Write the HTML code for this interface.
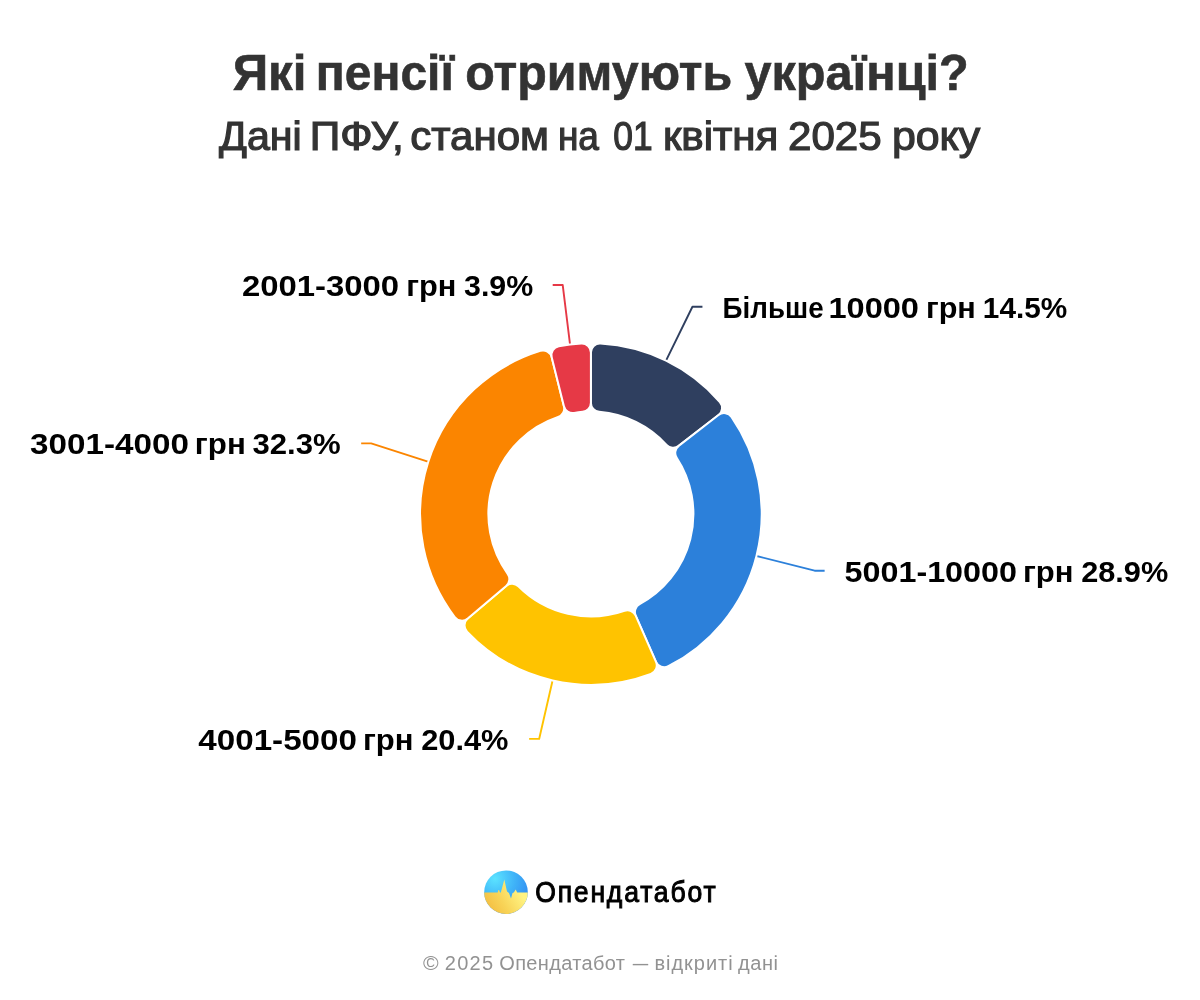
<!DOCTYPE html>
<html><head><meta charset="utf-8"><title>Які пенсії отримують українці?</title><style>
html,body{margin:0;padding:0;background:#fff;width:1200px;height:1000px;overflow:hidden}
svg{display:block;will-change:transform}
text{font-family:"Liberation Sans",sans-serif}
.title{font-weight:700;font-size:50px;fill:#333;stroke:#333;stroke-width:0.6px}
.sub{font-weight:400;font-size:40px;fill:#333;stroke:#333;stroke-width:1.2px}
.lab{font-weight:700;font-size:30px;fill:#000}
.brand{font-weight:400;font-size:29.5px;fill:#000;stroke:#000;stroke-width:1.0px}
.foot{font-weight:400;font-size:20px;fill:#929292}
</style></head><body>
<svg width="1200" height="1000" viewBox="0 0 1200 1000">
<rect width="1200" height="1000" fill="#fff"/>
<text x="232.67" y="90.0" textLength="73.80" lengthAdjust="spacingAndGlyphs" class="title">Які</text><text x="315.83" y="90.0" textLength="138.07" lengthAdjust="spacingAndGlyphs" class="title">пенсії</text><text x="465.23" y="90.0" textLength="266.99" lengthAdjust="spacingAndGlyphs" class="title">отримують</text><text x="744.48" y="90.0" textLength="224.29" lengthAdjust="spacingAndGlyphs" class="title">українці?</text>
<text x="219.07" y="149.8" textLength="82.70" lengthAdjust="spacingAndGlyphs" class="sub">Дані</text><text x="309.83" y="149.8" textLength="93.90" lengthAdjust="spacingAndGlyphs" class="sub">ПФУ,</text><text x="410.23" y="149.8" textLength="138.80" lengthAdjust="spacingAndGlyphs" class="sub">станом</text><text x="557.90" y="149.8" textLength="41.07" lengthAdjust="spacingAndGlyphs" class="sub">на</text><text x="613.30" y="149.8" textLength="39.33" lengthAdjust="spacingAndGlyphs" class="sub">01</text><text x="662.90" y="149.8" textLength="115.50" lengthAdjust="spacingAndGlyphs" class="sub">квітня</text><text x="787.97" y="149.8" textLength="93.66" lengthAdjust="spacingAndGlyphs" class="sub">2025</text><text x="891.90" y="149.8" textLength="88.33" lengthAdjust="spacingAndGlyphs" class="sub">року</text>
<g fill="none" stroke-width="1.9" stroke-linejoin="round"><polyline points="665.16,362.41 692.44,306.74 702.44,306.74" stroke="#2F3F5F"/><polyline points="754.53,555.47 814.63,570.70 824.63,570.70" stroke="#2C80DA"/><polyline points="553.04,678.50 539.14,738.92 529.14,738.92" stroke="#FFC300"/><polyline points="430.20,462.34 371.17,443.37 361.17,443.37" stroke="#FB8500"/><polyline points="570.27,346.47 562.69,284.93 552.69,284.93" stroke="#E63946"/></g>
<g stroke="#fff" stroke-width="2.0" stroke-linejoin="round"><path d="M590.90 352.45A9.0 9.0 0 0 1 600.40 343.46A170.8 170.8 0 0 1 719.83 401.97A9.0 9.0 0 0 1 718.55 414.99L678.71 445.88A9.0 9.0 0 0 1 666.56 444.84A102.5 102.5 0 0 0 599.17 411.83A9.0 9.0 0 0 1 590.90 402.86Z" fill="#2F3F5F"/><path d="M718.55 414.99A9.0 9.0 0 0 1 731.47 416.98A170.8 170.8 0 0 1 668.31 666.25A9.0 9.0 0 0 1 655.99 661.86L635.68 615.72A9.0 9.0 0 0 1 639.64 604.17A102.5 102.5 0 0 0 676.70 457.92A9.0 9.0 0 0 1 678.71 445.88Z" fill="#2C80DA"/><path d="M655.99 661.86A9.0 9.0 0 0 1 650.91 673.91A170.8 170.8 0 0 1 467.02 631.59A9.0 9.0 0 0 1 467.73 618.53L506.17 585.91A9.0 9.0 0 0 1 518.36 586.41A102.5 102.5 0 0 0 624.49 610.84A9.0 9.0 0 0 1 635.68 615.72Z" fill="#FFC300"/><path d="M467.73 618.53A9.0 9.0 0 0 1 454.73 617.10A170.8 170.8 0 0 1 540.31 350.86A9.0 9.0 0 0 1 551.71 357.28L563.94 406.18A9.0 9.0 0 0 1 558.09 416.89A102.5 102.5 0 0 0 507.65 573.80A9.0 9.0 0 0 1 506.17 585.91Z" fill="#FB8500"/><path d="M551.71 357.28A9.0 9.0 0 0 1 558.75 346.25A170.8 170.8 0 0 1 581.40 343.46A9.0 9.0 0 0 1 590.90 352.45L590.90 402.86A9.0 9.0 0 0 1 582.63 411.83A102.5 102.5 0 0 0 574.14 412.88A9.0 9.0 0 0 1 563.94 406.18Z" fill="#E63946"/></g>
<text x="241.97" y="295.9" textLength="157.14" lengthAdjust="spacingAndGlyphs" class="lab">2001-3000</text><text x="406.27" y="295.9" textLength="50.13" lengthAdjust="spacingAndGlyphs" class="lab">грн</text><text x="464.04" y="295.9" textLength="69.22" lengthAdjust="spacingAndGlyphs" class="lab">3.9%</text><text x="722.60" y="317.9" textLength="100.99" lengthAdjust="spacingAndGlyphs" class="lab">Більше</text><text x="828.42" y="317.9" textLength="90.58" lengthAdjust="spacingAndGlyphs" class="lab">10000</text><text x="925.90" y="317.9" textLength="49.91" lengthAdjust="spacingAndGlyphs" class="lab">грн</text><text x="982.86" y="317.9" textLength="84.40" lengthAdjust="spacingAndGlyphs" class="lab">14.5%</text><text x="30.08" y="453.8" textLength="158.77" lengthAdjust="spacingAndGlyphs" class="lab">3001-4000</text><text x="194.79" y="453.8" textLength="50.98" lengthAdjust="spacingAndGlyphs" class="lab">грн</text><text x="252.52" y="453.8" textLength="88.22" lengthAdjust="spacingAndGlyphs" class="lab">32.3%</text><text x="844.60" y="581.8" textLength="172.36" lengthAdjust="spacingAndGlyphs" class="lab">5001-10000</text><text x="1022.90" y="581.8" textLength="50.57" lengthAdjust="spacingAndGlyphs" class="lab">грн</text><text x="1081.19" y="581.8" textLength="87.07" lengthAdjust="spacingAndGlyphs" class="lab">28.9%</text><text x="198.30" y="749.8" textLength="158.66" lengthAdjust="spacingAndGlyphs" class="lab">4001-5000</text><text x="362.90" y="749.8" textLength="50.57" lengthAdjust="spacingAndGlyphs" class="lab">грн</text><text x="421.19" y="749.8" textLength="87.33" lengthAdjust="spacingAndGlyphs" class="lab">20.4%</text>
<defs>
<clipPath id="lc"><circle cx="506" cy="892.2" r="21.8"/></clipPath>
<radialGradient id="gb" cx="0.25" cy="0.2" r="0.9"><stop offset="0" stop-color="#5BE3FF"/><stop offset="0.5" stop-color="#3FB3F8"/><stop offset="1" stop-color="#2F86F0"/></radialGradient>
<linearGradient id="gy" x1="0.15" y1="0.95" x2="0.9" y2="0.6"><stop offset="0" stop-color="#F3B83A"/><stop offset="0.5" stop-color="#F8D458"/><stop offset="1" stop-color="#FFF382"/></linearGradient>
</defs>
<g clip-path="url(#lc)">
<rect x="484" y="870" width="44" height="44" fill="url(#gb)"/>
<path d="M480 892.6L497.7 892.6L498.4 890.1L499.1 890.1L500 892.6L500.8 892.6L504.3 879.5L507 891.5L508.3 892.5L509 893L511 898.5L512.5 893L513.8 892.6L515.7 889.6L517.2 892.6L532 892.6L532 918L480 918Z" fill="url(#gy)"/>
</g>
<text transform="translate(535.19 902.1) scale(0.9 1)" x="0" y="0" textLength="200.41" lengthAdjust="spacing" class="brand">Опендатабот</text>
<text x="423.00" y="969.8" textLength="15.67" lengthAdjust="spacingAndGlyphs" class="foot">©</text><text x="444.82" y="969.8" textLength="48.33" lengthAdjust="spacing" class="foot">2025</text><text x="499.30" y="969.8" textLength="125.63" lengthAdjust="spacing" class="foot">Опендатабот</text><text x="632.85" y="969.8" textLength="15.45" lengthAdjust="spacingAndGlyphs" class="foot">—</text><text x="654.45" y="969.8" textLength="78.18" lengthAdjust="spacing" class="foot">відкриті</text><text x="738.00" y="969.8" textLength="40.00" lengthAdjust="spacing" class="foot">дані</text>
</svg>
</body></html>
